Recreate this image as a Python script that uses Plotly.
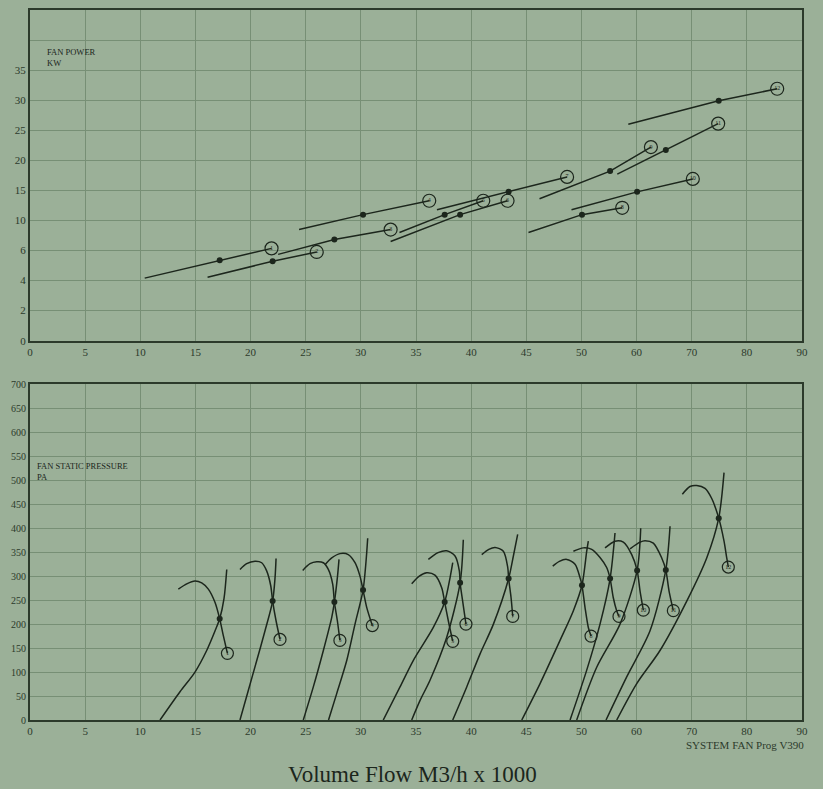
import numpy as np
import plotly.graph_objects as go

# ---------------- axis tick labels ----------------
FLOW_TICKS = [0, 5, 10, 15, 20, 25, 30, 35, 40, 45, 50, 60, 70, 80, 90]
POWER_TICKS = [0, 2, 4, 6, 10, 15, 20, 25, 30, 35, 40]   # last grid line unlabeled
POWER_TICK_TEXT = ["0", "2", "4", "6", "10", "15", "20", "25", "30", "35", ""]
PRESSURE_TICKS = list(range(0, 701, 50))

FAN_IDS = ["1", "2", "3", "4", "5", "6", "7", "8", "9", "10", "11", "12"]

# ---------------- operating points ----------------
op_flow = [17.2, 22.0, 27.6, 30.2, 37.6, 39.0, 43.4, 50.1, 55.2, 60.1, 65.3, 74.9]
op_power = [5.35, 5.28, 7.46, 10.96, 10.96, 10.96, 14.75, 10.96, 18.2, 14.75, 21.7, 29.9]
op_pressure = [211, 248, 246, 271, 246, 286, 295, 281, 295, 312, 313, 421]

# ---------------- fan power lines (top) ----------------
power_start_x = [10.4, 16.1, 22.5, 24.4, 33.5, 32.7, 36.9, 45.2, 46.2, 49.1, 56.5, 58.5]
power_start_y = [4.16, 4.22, 5.74, 8.78, 8.39, 7.2, 11.78, 8.39, 13.6, 11.78, 17.7, 26.0]
power_end_x = [21.9, 26.0, 32.7, 36.2, 41.1, 43.3, 48.7, 57.4, 62.6, 70.2, 74.8, 85.5]
power_end_y = [6.28, 5.9, 8.78, 13.27, 13.27, 13.27, 17.23, 12.1, 22.2, 16.9, 26.1, 31.9]

# ---------------- fan static pressure curves (bottom) ----------------
fan_curve_x = [
    [13.45, 14.21, 14.96, 15.57, 16.17, 16.78, 17.2, 17.53, 17.9],
    [19.04, 19.65, 20.40, 21.01, 21.46, 21.83, 22.0, 22.31, 22.67],
    [24.73, 25.39, 26.0, 26.6, 27.05, 27.45, 27.6, 27.87, 28.1],
    [26.75, 27.36, 28.11, 28.86, 29.47, 29.92, 30.2, 30.53, 31.04],
    [34.61, 35.3, 35.97, 36.72, 37.33, 37.6, 37.93, 38.33],
    [36.12, 37.0, 37.78, 38.54, 38.93, 39.0, 39.23, 39.53],
    [40.96, 41.6, 42.17, 42.92, 43.32, 43.4, 43.62, 43.77],
    [47.4, 48.0, 48.67, 49.42, 49.87, 50.1, 50.65, 51.25, 51.74],
    [49.27, 50.34, 51.86, 53.37, 54.58, 55.2, 55.78, 56.39, 56.81],
    [54.28, 56.09, 57.6, 59.12, 60.1, 60.63, 61.23],
    [58.82, 60.63, 61.53, 63.04, 64.56, 65.3, 65.89, 66.67],
    [68.30, 69.69, 70.91, 72.41, 73.63, 74.9, 75.86, 76.35, 76.64],
]
fan_curve_y = [
    [273, 284, 290, 286, 273, 245, 211, 176, 139],
    [314, 326, 331, 328, 311, 280, 248, 207, 168],
    [312, 326, 330, 328, 314, 283, 246, 207, 166],
    [324, 338, 347, 345, 328, 300, 271, 235, 197],
    [284, 300, 307, 302, 276, 246, 207, 164],
    [335, 349, 353, 342, 311, 286, 248, 200],
    [345, 356, 360, 352, 318, 295, 255, 216],
    [321, 331, 335, 325, 297, 281, 235, 193, 175],
    [352, 359, 356, 339, 318, 295, 255, 228, 216],
    [359, 373, 371, 345, 312, 269, 229],
    [357, 371, 374, 369, 338, 313, 269, 228],
    [471, 487, 489, 483, 462, 421, 373, 338, 319],
]

# ---------------- system curves (bottom) ----------------
system_curve_x = [
    [11.79, 13.60, 14.96, 16.02, 16.78, 17.2, 17.59, 17.84],
    [19.04, 19.80, 20.56, 21.31, 22.0, 22.22, 22.31],
    [24.78, 25.69, 26.60, 27.36, 27.6, 27.87, 28.02],
    [27.07, 27.81, 28.72, 29.47, 30.2, 30.47, 30.62],
    [32.03, 33.55, 34.75, 36.57, 37.6, 38.09, 38.33],
    [34.61, 35.37, 36.27, 37.78, 39.0, 39.29],
    [38.33, 39.60, 40.81, 42.02, 43.4, 43.83, 44.22],
    [44.59, 46.25, 48.06, 49.27, 50.1, 50.96, 51.25],
    [48.97, 50.96, 53.37, 55.2, 56.09],
    [49.57, 52.77, 57.0, 60.1, 60.75],
    [54.46, 58.21, 62.44, 65.3, 66.07],
    [56.4, 60.03, 64.25, 69.1, 72.72, 74.9, 75.86],
]
system_curve_y = [
    [0, 59, 100, 145, 186, 211, 253, 314],
    [0, 62, 124, 186, 248, 297, 337],
    [0, 69, 145, 214, 246, 297, 335],
    [0, 55, 124, 200, 271, 331, 379],
    [0, 69, 124, 193, 246, 297, 328],
    [0, 41, 83, 172, 286, 376],
    [0, 69, 138, 200, 295, 342, 387],
    [0, 76, 166, 228, 281, 352, 373],
    [0, 104, 200, 295, 390],
    [0, 110, 200, 312, 400],
    [0, 90, 186, 313, 404],
    [0, 76, 145, 248, 338, 421, 516],
]

# ---------------- styling ----------------
BG = "#9bb098"
GRID = "#778f75"
FRAME = "#2c3a2b"
INK = "#1c261c"
SERIF = "Liberation Serif, Times New Roman, serif"

flow_pos = np.arange(len(FLOW_TICKS))
power_pos = np.arange(len(POWER_TICKS))


def fx(v):
    return np.interp(v, FLOW_TICKS, flow_pos)


def fy(v):
    return np.interp(v, POWER_TICKS, power_pos)


fig = go.Figure()

# top chart: fan power
for i in range(len(FAN_IDS)):
    xs = fx([power_start_x[i], op_flow[i], power_end_x[i]])
    ys = fy([power_start_y[i], op_power[i], power_end_y[i]])
    fig.add_trace(go.Scatter(x=xs, y=ys, mode="lines", line=dict(color=INK, width=1.5),
                             xaxis="x", yaxis="y", hoverinfo="skip", showlegend=False))
fig.add_trace(go.Scatter(x=fx(op_flow), y=fy(op_power), mode="markers",
                         marker=dict(color=INK, size=6), xaxis="x", yaxis="y",
                         showlegend=False))
fig.add_trace(go.Scatter(x=fx(power_end_x), y=fy(power_end_y), mode="markers+text",
                         text=FAN_IDS, textposition="middle center",
                         textfont=dict(size=6, color=INK, family=SERIF),
                         marker=dict(symbol="circle-open", color=INK, size=13, line=dict(width=1.2)),
                         xaxis="x", yaxis="y", showlegend=False))

# bottom chart: pressure
for i in range(len(FAN_IDS)):
    fig.add_trace(go.Scatter(x=fx(fan_curve_x[i]), y=fan_curve_y[i], mode="lines",
                             line=dict(color=INK, width=1.5, shape="spline", smoothing=0.8),
                             xaxis="x2", yaxis="y2", hoverinfo="skip", showlegend=False))
    fig.add_trace(go.Scatter(x=fx(system_curve_x[i]), y=system_curve_y[i], mode="lines",
                             line=dict(color=INK, width=1.5, shape="spline", smoothing=0.8),
                             xaxis="x2", yaxis="y2", hoverinfo="skip", showlegend=False))
fig.add_trace(go.Scatter(x=fx(op_flow), y=op_pressure, mode="markers",
                         marker=dict(color=INK, size=6), xaxis="x2", yaxis="y2",
                         showlegend=False))
fig.add_trace(go.Scatter(x=fx([c[-1] for c in fan_curve_x]), y=[c[-1] for c in fan_curve_y],
                         mode="markers+text", text=FAN_IDS, textposition="middle center",
                         textfont=dict(size=6, color=INK, family=SERIF),
                         marker=dict(symbol="circle-open", color=INK, size=12, line=dict(width=1.2)),
                         xaxis="x2", yaxis="y2", showlegend=False))

xaxis_common = dict(range=[0, len(FLOW_TICKS) - 1], tickmode="array", tickvals=flow_pos,
                    ticktext=[str(t) for t in FLOW_TICKS], showgrid=True, gridcolor=GRID,
                    gridwidth=1, showline=True, mirror=True, linecolor=FRAME, linewidth=2,
                    zeroline=False, ticks="", tickfont=dict(family=SERIF, size=11, color=FRAME))

fig.update_layout(
    width=823, height=789,
    margin=dict(l=30, r=21, t=5, b=69),
    paper_bgcolor=BG, plot_bgcolor=BG,
    font=dict(family=SERIF, color=FRAME),
    showlegend=False,
    xaxis=dict(**xaxis_common, domain=[0, 1], anchor="y"),
    yaxis=dict(domain=[0.5343, 1.0], range=[0, 11], tickmode="array",
               tickvals=power_pos, ticktext=POWER_TICK_TEXT, showgrid=True, gridcolor=GRID,
               showline=True, mirror=True, linecolor=FRAME, linewidth=2, zeroline=False,
               ticks="", tickfont=dict(family=SERIF, size=11, color=FRAME), anchor="x"),
    xaxis2=dict(**xaxis_common, domain=[0, 1], anchor="y2"),
    yaxis2=dict(domain=[0, 0.4727], range=[0, 700], tickmode="array",
                tickvals=PRESSURE_TICKS, ticktext=[str(t) for t in PRESSURE_TICKS],
                showgrid=True, gridcolor=GRID, showline=True, mirror=True, linecolor=FRAME,
                linewidth=2, zeroline=False, ticks="",
                tickfont=dict(family=SERIF, size=10, color=FRAME), anchor="x2"),
    annotations=[
        dict(text="FAN POWER<br>KW", xref="paper", yref="paper", x=0.019, y=0.951,
             xanchor="left", yanchor="top", showarrow=False, align="left",
             font=dict(family=SERIF, size=8.5, color=INK)),
        dict(text="FAN STATIC PRESSURE<br>PA", xref="paper", yref="paper", x=0.006, y=0.368,
             xanchor="left", yanchor="top", showarrow=False, align="left",
             font=dict(family=SERIF, size=8.5, color=INK)),
        dict(text="SYSTEM FAN Prog V390", xref="paper", yref="paper", x=1.005, y=-0.035,
             xanchor="right", yanchor="middle", showarrow=False,
             font=dict(family=SERIF, size=11, color=FRAME)),
        dict(text="Volume Flow M3/h x 1000", xref="paper", yref="paper", x=0.496, y=-0.077,
             xanchor="center", yanchor="middle", showarrow=False,
             font=dict(family=SERIF, size=23, color=INK)),
    ],
)

fig.write_html(
    "out.html",
    config={"displayModeBar": False},
    post_script="document.body.style.margin='0';document.body.style.padding='0';"
                "document.body.style.overflow='hidden';document.body.style.background='" + BG + "';",
)
